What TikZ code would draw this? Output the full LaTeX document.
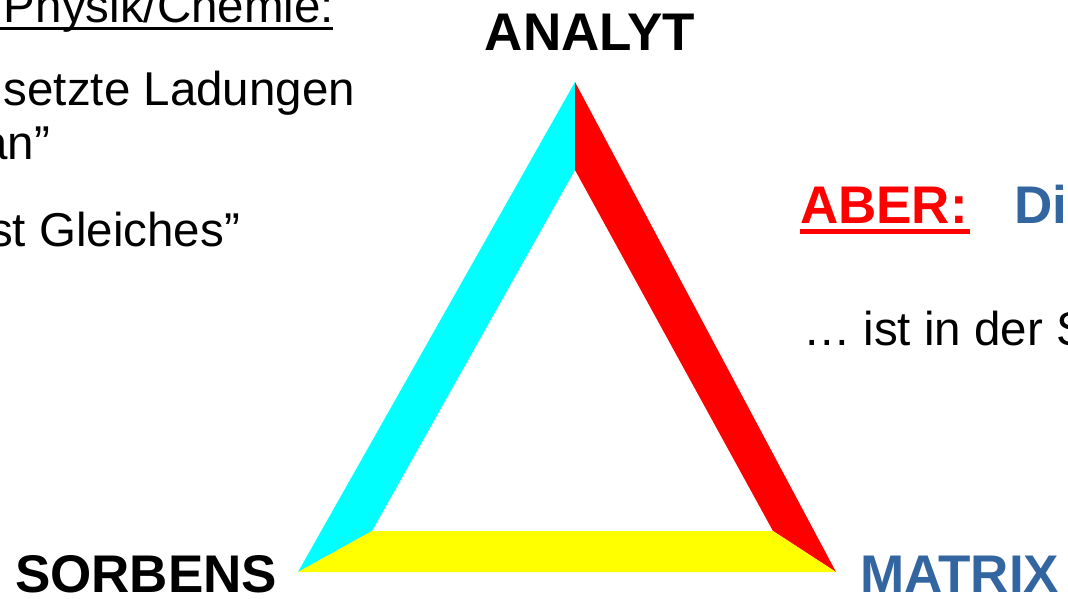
\documentclass[tikz,border=0pt]{standalone}
\usepackage{fontspec}
\setmainfont{Liberation Sans}
\definecolor{matblue}{RGB}{51,102,160}
\definecolor{cyanband}{RGB}{0,255,255}
\definecolor{redband}{RGB}{255,0,0}
\definecolor{yellowband}{RGB}{255,255,0}
\definecolor{aberred}{RGB}{255,0,0}
\begin{document}
\begin{tikzpicture}[x=1pt,y=-1pt,
  every node/.style={inner sep=0pt, outer sep=0pt},
  lbl/.style={font=\fontsize{53}{60}\selectfont\bfseries},
  body/.style={font=\fontsize{47.5}{55}\selectfont}]
\useasboundingbox (0,0) rectangle (1068,598);
% triangle
\coordinate (At) at (575,82);
\coordinate (Ai) at (575,170);
\coordinate (Sl) at (298,572);
\coordinate (Si) at (372,531);
\coordinate (Mr) at (836,572);
\coordinate (Mi) at (773,531);
\fill[cyanband] (At) -- (Ai) -- (Si) -- (Sl) -- cycle;
\fill[redband] (At) -- (Mr) -- (Mi) -- (Ai) -- cycle;
\fill[yellowband] (Sl) -- (Si) -- (Mi) -- (Mr) -- cycle;
% vertex labels
\node[lbl, anchor=base] (analyt) at (590,50) {ANALYT};
\node[lbl, anchor=base west] (sorbens) at (15,592) {SORBENS};
\node[lbl, anchor=base west] at (860,592) [text=matblue] (matrix) {MATRIX};
% left text
\node[body, anchor=base west] (phys) at (4,22) {Physik/Chemie:};
\draw[line width=3pt] (0,28.5) -- (333,28.5);
\node[body, anchor=base east] (lad) at (355,105) {setzte Ladungen};
\node[body, anchor=base east] (an) at (50,159) {an”};
\node[body, anchor=base east] (gleich) at (240,246) {st Gleiches”};
% right text
\node[lbl, anchor=base west, text=aberred] (aber) at (800,223) {ABER:};
\draw[aberred, line width=4.5pt] (800,231.5) -- (970,231.5);
\node[lbl, anchor=base west, text=matblue] (di) at (1014,223) {Di};
\node[body, anchor=base west] (ist) at (803,345) {… ist in der S};
\end{tikzpicture}
\end{document}
